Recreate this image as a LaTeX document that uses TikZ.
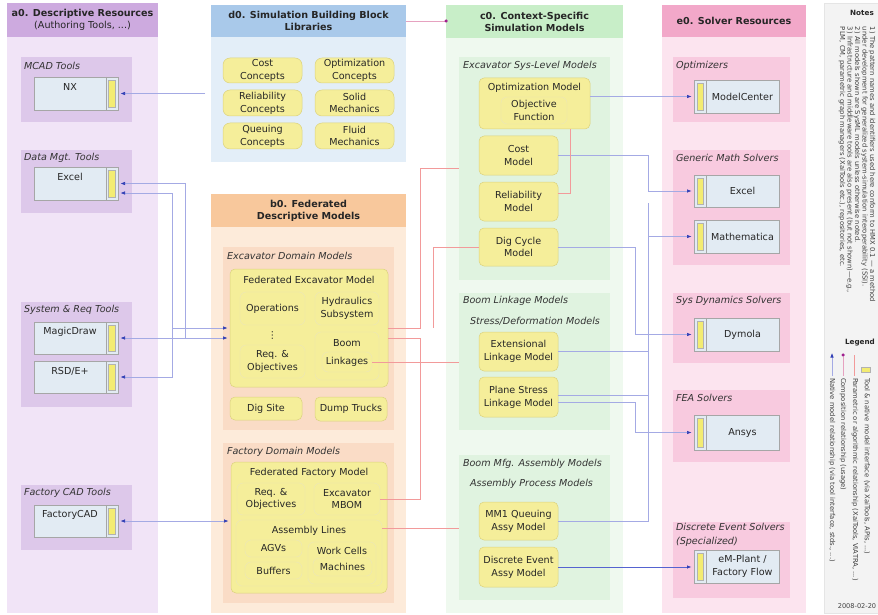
\documentclass[tikz,border=0pt]{standalone}
\usepackage{fontspec}
\setmainfont{DejaVu Sans}
\usetikzlibrary{arrows.meta}
\definecolor{a0h}{HTML}{CDAADF}
\definecolor{a0b}{HTML}{F1E4F7}
\definecolor{a0g}{HTML}{DDC8EA}
\definecolor{d0h}{HTML}{A9C9EA}
\definecolor{d0b}{HTML}{E3EEF8}
\definecolor{b0h}{HTML}{F8C89C}
\definecolor{b0b}{HTML}{FDEBDA}
\definecolor{b0g}{HTML}{FADCC6}
\definecolor{c0h}{HTML}{C8EEC8}
\definecolor{c0b}{HTML}{EFF9EF}
\definecolor{c0g}{HTML}{E0F3E0}
\definecolor{e0h}{HTML}{F2A8C9}
\definecolor{e0b}{HTML}{FCE4EF}
\definecolor{e0g}{HTML}{F8CADF}
\definecolor{ylw}{HTML}{F5EE9A}
\definecolor{ylwd}{HTML}{DCD27E}
\definecolor{barf}{HTML}{F3EC72}
\definecolor{toolf}{HTML}{E2EBF3}
\definecolor{natl}{HTML}{A4AAE4}
\definecolor{nata}{HTML}{2F3DB5}
\definecolor{natd}{HTML}{5563D0}
\definecolor{parl}{HTML}{F29A9A}
\definecolor{compl}{HTML}{E6A2C0}
\definecolor{compd}{HTML}{A0208E}
\definecolor{notef}{HTML}{F3F3F3}
\tikzset{
 bx/.style={inner sep=0pt, outer sep=0pt},
 colbody/.style={bx},
 colhead/.style={bx, align=center, font=\fontsize{9.6}{12}\selectfont\bfseries, text=black!85},
 grp/.style={bx},
 glabel/.style={bx, anchor=west, font=\fontsize{9.6}{14.5}\selectfont\itshape, text=black!80},
 model/.style={bx, rounded corners=5pt, fill=ylw, draw=ylwd, line width=0.5pt, align=center},
 pill/.style={bx, rounded corners=6pt, fill=ylw, draw=ylwd!55, line width=0.4pt, align=center},
 conc/.style={bx, rounded corners=7pt, fill=ylw, draw=ylwd, line width=0.5pt, align=center},
 tool/.style={bx, fill=toolf, draw=black!35, line width=0.5pt},
 bar/.style={bx, fill=barf, draw=black!30, line width=0.4pt},
 ttext/.style={bx, align=center},
 nat/.style={draw=natl, line width=0.6pt, -{Latex[length=4.5pt,width=3.5pt,color=nata]}, shorten >=2.5pt},
 natboth/.style={draw=natl, line width=0.6pt, {Latex[length=4.5pt,width=3.5pt,color=nata]}-{Latex[length=4.5pt,width=3.5pt,color=nata]}, shorten >=2.5pt, shorten <=2.5pt},
 natdark/.style={draw=natd, line width=0.7pt, -{Latex[length=4.5pt,width=3.5pt,color=nata]}, shorten >=2.5pt},
 natplain/.style={draw=natl, line width=0.6pt},
 par/.style={draw=parl, line width=0.6pt},
 comp/.style={draw=compl, line width=0.6pt},
 smallrot/.style={bx, rotate=-90, anchor=west, font=\fontsize{6.8}{7.5}\selectfont, text=black!75},
}
\newcommand\rbox[7]{%
 \pgfmathsetmacro\rbw{(#5)-(#3)}\pgfmathsetmacro\rbh{(#6)-(#4)}%
 \node[#2, minimum width=\rbw pt, minimum height=\rbh pt, anchor=north west] (#1) at ({#3},{#4}) {#7};}
\newcommand\toolR[6]{%
 \rbox{#1}{tool}{#2}{#3}{#4}{#5}{}
 \draw[draw=black!35, line width=0.5pt] ({#4-12},#3) -- ({#4-12},#5);
 \rbox{#1-bar}{bar}{#4-9.5}{#3+3}{#4-3}{#5-3}{}
 \node[ttext] (#1-t) at ({(#2+#4-12)/2},{#3+10}) {#6};}
\newcommand\toolL[6]{%
 \rbox{#1}{tool}{#2}{#3}{#4}{#5}{}
 \draw[draw=black!35, line width=0.5pt] ({#2+12},#3) -- ({#2+12},#5);
 \rbox{#1-bar}{bar}{#2+3}{#3+3}{#2+9.5}{#5-3}{}
 \node[ttext] (#1-t) at ({(#2+12+#4)/2},{(#3+#5)/2}) {#6};}
\begin{document}
\begin{tikzpicture}[x=1pt,y=-1pt, font=\fontsize{9.6}{12.8}\selectfont, text=black!85]
\useasboundingbox (0,0) rectangle (878,615);
\fill[white] (0,0) rectangle (878,615);

% ---------- a0 ----------
\rbox{a0body}{colbody, fill=a0b}{7}{3}{158}{613}{}
\rbox{a0head}{colhead, fill=a0h}{7}{3}{158}{37}{a0. Descriptive Resources\\{\mdseries (Authoring Tools, ...)}}
\rbox{gmcad}{grp, fill=a0g}{21}{57}{132}{122}{}
\node[glabel] (gmcad-l) at (24,66) {MCAD Tools};
\toolR{nx}{34}{77}{118}{110}{NX}
\rbox{gdata}{grp, fill=a0g}{21}{150}{132}{213}{}
\node[glabel] (gdata-l) at (24,158) {Data Mgt. Tools};
\toolR{exa}{34}{167}{118}{200}{Excel}
\rbox{gsys}{grp, fill=a0g}{21}{302}{132}{407}{}
\node[glabel] (gsys-l) at (24,310) {System \& Req Tools};
\toolR{md}{34}{322}{118}{354}{MagicDraw}
\toolR{rsd}{34}{361}{118}{393}{RSD/E+}
\rbox{gfac}{grp, fill=a0g}{21}{485}{132}{550}{}
\node[glabel] (gfac-l) at (24,493) {Factory CAD Tools};
\toolR{fc}{34}{505}{118}{537}{FactoryCAD}

% ---------- d0 ----------
\rbox{d0body}{colbody, fill=d0b}{211}{5}{406}{162}{}
\rbox{d0head}{colhead, fill=d0h}{211}{5}{406}{37}{d0. Simulation Building Block\\Libraries}
\rbox{cc1}{conc}{223}{58}{302}{83}{Cost\\Concepts}
\rbox{cc2}{conc}{315}{58}{394}{83}{Optimization\\Concepts}
\rbox{cc3}{conc}{223}{90}{302}{116}{Reliability\\Concepts}
\rbox{cc4}{conc}{315}{90}{394}{116}{Solid\\Mechanics}
\rbox{cc5}{conc}{223}{123}{302}{149}{Queuing\\Concepts}
\rbox{cc6}{conc}{315}{123}{394}{149}{Fluid\\Mechanics}

% ---------- b0 ----------
\rbox{b0body}{colbody, fill=b0b}{211}{194}{406}{613}{}
\rbox{b0head}{colhead, fill=b0h}{211}{194}{406}{227}{b0. Federated\\Descriptive Models}
\rbox{gexd}{grp, fill=b0g}{223}{247}{394}{430}{}
\node[glabel] (gexd-l) at (227,256) {Excavator Domain Models};
\rbox{fedex}{model}{230}{269}{388}{387}{}
\node[bx] (fedex-t) at (309,280) {Federated Excavator Model};
\rbox{ops}{pill}{240}{292}{305}{325}{Operations}
\rbox{hyd}{pill}{315}{292}{379}{325}{Hydraulics\\Subsystem}
\node[bx] (vdots) at (272.5,336) {⋮};
\rbox{reqa}{pill}{240}{345}{305}{378}{Req. \&\\Objectives}
\rbox{boomg}{pill}{315}{332}{379}{380}{}
\node[bx] (boom-t) at (347,343) {Boom};
\rbox{lnk}{pill}{322}{352}{372}{372}{Linkages}
\rbox{digsite}{model}{230}{397}{302}{420}{Dig Site}
\rbox{dump}{model}{315}{397}{387}{421}{Dump Trucks}
\rbox{gfd}{grp, fill=b0g}{223}{443}{394}{603}{}
\node[glabel] (gfd-l) at (227,452) {Factory Domain Models};
\rbox{fedfac}{model}{231}{462}{387}{593}{}
\node[bx] (fedfac-t) at (309,473) {Federated Factory Model};
\rbox{reqb}{pill}{237}{483}{305}{515}{Req. \&\\Objectives}
\rbox{mbom}{pill}{314}{483}{380}{515}{Excavator\\MBOM}
\rbox{asm}{pill}{236}{520}{382}{586}{}
\node[bx] (asm-t) at (309,531) {Assembly Lines};
\rbox{agv}{pill}{245}{540}{302}{557}{AGVs}
\rbox{buf}{pill}{245}{562}{302}{579}{Buffers}
\rbox{wc}{pill}{308}{542}{376}{584}{}
\node[bx] (wc-t) at (342,551) {Work Cells};
\rbox{mach}{pill}{313}{558}{372}{576}{Machines}

% ---------- c0 ----------
\rbox{c0body}{colbody, fill=c0b}{446}{5}{623}{613}{}
\rbox{c0head}{colhead, fill=c0h}{446}{5}{623}{38}{c0. Context-Specific\\Simulation Models}
\rbox{gsl}{grp, fill=c0g}{459}{57}{610}{280}{}
\node[glabel] (gsl-l) at (463,66) {Excavator Sys-Level Models};
\rbox{opt}{model}{479}{78}{590}{129}{}
\node[bx] (opt-t) at (534.5,88) {Optimization Model};
\rbox{obj}{pill}{501}{97}{567}{124}{Objective\\Function}
\rbox{cost}{model}{479}{136}{558}{175}{Cost\\Model}
\rbox{rel}{model}{479}{182}{558}{221}{Reliability\\Model}
\rbox{dig}{model}{479}{228}{558}{266}{Dig Cycle\\Model}
\rbox{gbl}{grp, fill=c0g}{459}{293}{610}{430}{}
\node[glabel] (gbl-l) at (463,301) {Boom Linkage Models};
\node[glabel] (gbl-l2) at (470,321) {Stress/Deformation Models};
\rbox{ext}{model}{479}{332}{558}{371}{Extensional\\Linkage Model}
\rbox{pls}{model}{479}{377}{558}{417}{Plane Stress\\Linkage Model}
\rbox{gbm}{grp, fill=c0g}{459}{455}{610}{600}{}
\node[glabel] (gbm-l) at (463,464) {Boom Mfg. Assembly Models};
\node[glabel] (gbm-l2) at (470,484) {Assembly Process Models};
\rbox{mm1}{model}{479}{502}{558}{540}{MM1 Queuing\\Assy Model}
\rbox{des}{model}{479}{547}{558}{587}{Discrete Event\\Assy Model}

% ---------- e0 ----------
\rbox{e0body}{colbody, fill=e0b}{662}{5}{806}{613}{}
\rbox{e0head}{colhead, fill=e0h}{662}{5}{806}{37}{e0. Solver Resources}
\rbox{gopt}{grp, fill=e0g}{673}{57}{790}{122}{}
\node[glabel] (gopt-l) at (676,66) {Optimizers};
\toolL{mc}{694}{80}{779}{113}{ModelCenter}
\rbox{ggm}{grp, fill=e0g}{673}{150}{790}{265}{}
\node[glabel] (ggm-l) at (676,158) {Generic Math Solvers};
\toolL{exe}{694}{175}{779}{207}{Excel}
\toolL{mat}{694}{220}{779}{253}{Mathematica}
\rbox{gsd}{grp, fill=e0g}{673}{293}{790}{363}{}
\node[glabel] (gsd-l) at (676,301) {Sys Dynamics Solvers};
\toolL{dym}{694}{318}{779}{351}{Dymola}
\rbox{gfea}{grp, fill=e0g}{673}{390}{790}{462}{}
\node[glabel] (gfea-l) at (676,398) {FEA Solvers};
\toolL{ans}{694}{415}{779}{450}{Ansys}
\rbox{gdes}{grp, fill=e0g}{673}{522}{790}{598}{}
\node[glabel, align=left, anchor=north west] (gdes-l) at (676,523) {Discrete Event Solvers\\(Specialized)};
\toolL{emp}{694}{550}{779}{583}{eM-Plant /\\Factory Flow}

% ---------- notes & legend ----------
\rbox{notes}{bx, fill=notef, draw=black!10}{824}{3}{878}{613}{}
\node[bx, font=\fontsize{7.2}{8}\selectfont\bfseries] (notes-t) at (862,13) {Notes};
\node[smallrot] (n1) at (872,27) {1) The pattern names and identifiers used here conform to HMX 0.1 — a method};
\node[smallrot] (n2) at (864.5,27) {under development for generalized system-simulation interoperability (SSI).};
\node[smallrot] (n3) at (857,27) {2) All models shown are SysML models unless otherwise noted.};
\node[smallrot] (n4) at (849.5,27) {3) Infrastructure and middleware tools are also present (but not shown)—e.g.,};
\node[smallrot] (n5) at (842,27) {PLM, CM, parametric graph managers (XaiTools etc.), repositories, etc.};
\node[bx, font=\fontsize{7.2}{8}\selectfont\bfseries] (leg-t) at (860,343) {Legend};
\rbox{lg-bar}{bar}{861}{367}{870}{372}{}
\node[smallrot] (lg1) at (867,378) {Tool \& native model interface (via XaiTools, APIs, ...)};
\coordinate (lp1) at (854,355); \coordinate (lp2) at (854,376);
\draw[par] (lp1) -- (lp2);
\node[smallrot] (lg2) at (855,378) {Parametric or algorithmic relationship (XaiTools, VIATRA, ...)};
\coordinate (lc2) at (843,376);
\node[bx, circle, fill=compd, minimum size=3.5pt] (lgdot) at (843,355) {};
\draw[comp] (lgdot) -- (lc2);
\node[smallrot] (lg3) at (843,378) {Composition relationship (usage)};
\coordinate (ln1) at (832,376); \coordinate (ln2) at (832,353);
\draw[draw=natl, line width=0.6pt, -{Latex[length=4.5pt,width=3.5pt,color=nata]}] (ln1) -- (ln2);
\node[smallrot] (lg4) at (832,378) {Native model relationship (via tool interface, stds., ...)};
\node[bx, font=\fontsize{6.6}{7}\selectfont, text=black!75] (date) at (857,606) {2008-02-20};

% ---------- connectors: left ----------
\coordinate (cnx) at (205,93.5);
\draw[nat] (cnx) -- (nx.east);
\draw[natboth] (md.east) -- (md.east -| fedex.west);
\coordinate (ja) at (185,338);
\draw[nat] (ja) |- (exa.east);
\coordinate (jb) at (172,328);
\draw[natboth] ([yshift=-9.5pt]exa.east) -| (jb) -- (jb -| fedex.west);
\draw[nat] (jb) |- (rsd.east);
\draw[natboth] (fc.east) -- (fc.east -| fedfac.west);

% ---------- connectors: right (native) ----------
\draw[nat] ([yshift=7pt]opt.east) -- (mc.west);
\coordinate (ba) at (648,191);
\draw[nat] (cost.east) -| (ba) -- (exe.west);
\coordinate (bb) at (648,236.5);
\coordinate (bbtop) at (648,203);
\draw[nat] (mm1.east) -| (bb) -- (mat.west);
\draw[natplain] (bbtop) -- (bb);
\draw[natplain] (ext.east) -- (ext.east -| bb);
\draw[natplain] ([yshift=2pt]pls.east) -- ([yshift=2pt]pls.east -| bb);
\coordinate (bc) at (635,334.5);
\draw[nat] (dig.east) -| (bc) -- (dym.west);
\coordinate (bd) at (635,432.5);
\draw[nat] ([yshift=-5pt]pls.east) -| (bd) -- (ans.west);
\draw[natdark] (des.east) -- (des.east -| emp.west);

% ---------- connectors: parametric ----------
\coordinate (ra) at (420,168);
\draw[par] (fedex.east) -| (ra) -- (ra -| gsl.west);
\coordinate (rb) at (433,328);
\draw[par] (dig.west) -| (rb);
\coordinate (rc) at (420,338);
\draw[par] (rc -| fedex.east) -- (rc) |- (mbom.east);
\draw[par] (lnk.east) -- (lnk.east -| gbl.west);
\coordinate (rd) at (459,528);
\draw[par] (rd -| asm.east) -- (rd);
\coordinate (re) at (570,193);
\draw[par] (re |- opt.south) -- (re) -- (re -| rel.east);

% ---------- composition ----------
\draw[comp] (d0head.east) -- (d0head.east -| c0head.west);
\node[bx, circle, fill=compd, minimum size=3.5pt] (cdot) at (d0head.east -| c0head.west) {};
\end{tikzpicture}
\end{document}
